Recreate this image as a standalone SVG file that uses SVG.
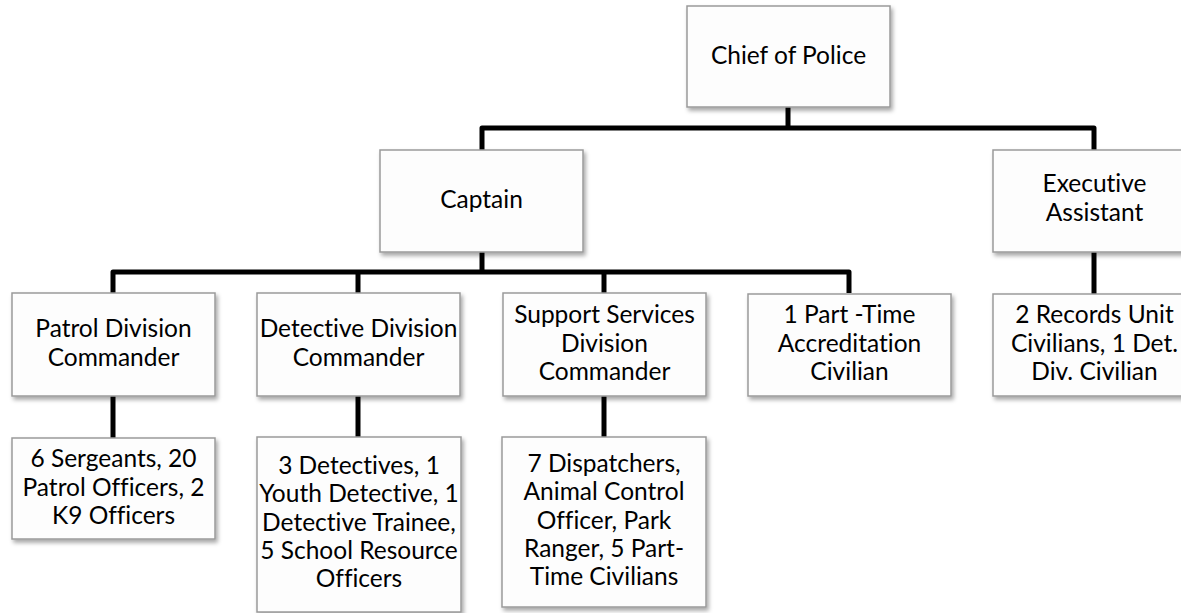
<svg xmlns="http://www.w3.org/2000/svg" width="1181" height="613" viewBox="0 0 1181 613">
  <defs>
    <filter id="shadow" x="-10%" y="-10%" width="125%" height="130%">
      <feDropShadow dx="2" dy="3" stdDeviation="2" flood-color="#000" flood-opacity="0.35"/>
    </filter>
    <style>
      .box { fill: #fdfdfd; stroke: #9a9a9a; stroke-width: 1.5; filter: url(#shadow); }
      .lbl { font-family: Lato, "Liberation Sans", sans-serif; font-size: 24.5px; fill: #000; text-anchor: middle;
             font-variant-ligatures: none; font-feature-settings: "liga" 0, "clig" 0, "dlig" 0; }
      .wire { fill: none; stroke: #000; stroke-width: 5; stroke-linejoin: round; stroke-linecap: butt; }
    </style>
  </defs>
  <rect width="1181" height="613" fill="#fff"/>

  <!-- connectors -->
  <g id="connectors">
    <path class="wire" d="M788,107 V128"/>
    <path class="wire" d="M482,150 V128 H1094 V150"/>
    <path class="wire" d="M113,293 V272 H849 V293"/>
    <path class="wire" d="M482,252 V272"/>
    <path class="wire" d="M358,272 V293"/>
    <path class="wire" d="M604,272 V293"/>
    <path class="wire" d="M113,396 V438"/>
    <path class="wire" d="M358,396 V437"/>
    <path class="wire" d="M604,396 V437"/>
    <path class="wire" d="M1094,252 V294"/>
  </g>

  <!-- top level -->
  <g id="chief">
    <rect class="box" x="687" y="6" width="203" height="101"/>
    <text class="lbl" x="788.5" y="64">Chief of Police</text>
  </g>

  <!-- second level -->
  <g id="captain">
    <rect class="box" x="380" y="150" width="203" height="102"/>
    <text class="lbl" x="481.5" y="208">Captain</text>
  </g>
  <g id="executive-assistant">
    <rect class="box" x="993" y="150" width="203" height="102"/>
    <text class="lbl" x="1094.5" y="192">Executive</text>
    <text class="lbl" x="1094.5" y="221">Assistant</text>
  </g>

  <!-- third level -->
  <g id="patrol-commander">
    <rect class="box" x="12" y="293" width="203" height="103"/>
    <text class="lbl" x="113.5" y="337">Patrol Division</text>
    <text class="lbl" x="113.5" y="366">Commander</text>
  </g>
  <g id="detective-commander">
    <rect class="box" x="257" y="293" width="203" height="103"/>
    <text class="lbl" x="358.5" y="337">Detective Division</text>
    <text class="lbl" x="358.5" y="366">Commander</text>
  </g>
  <g id="support-commander">
    <rect class="box" x="503" y="293" width="203" height="103"/>
    <text class="lbl" x="604.5" y="323">Support Services</text>
    <text class="lbl" x="604.5" y="352">Division</text>
    <text class="lbl" x="604.5" y="380">Commander</text>
  </g>
  <g id="accreditation">
    <rect class="box" x="748" y="294" width="203" height="102"/>
    <text class="lbl" x="849.5" y="323">1 Part -Time</text>
    <text class="lbl" x="849.5" y="352">Accreditation</text>
    <text class="lbl" x="849.5" y="380">Civilian</text>
  </g>
  <g id="records">
    <rect class="box" x="993" y="294" width="203" height="102"/>
    <text class="lbl" x="1094.5" y="323">2 Records Unit</text>
    <text class="lbl" x="1094.5" y="352">Civilians, 1 Det.</text>
    <text class="lbl" x="1094.5" y="380">Div. Civilian</text>
  </g>

  <!-- fourth level -->
  <g id="patrol-staff">
    <rect class="box" x="12" y="438" width="203" height="101"/>
    <text class="lbl" x="113.5" y="467">6 Sergeants, 20</text>
    <text class="lbl" x="113.5" y="496">Patrol Officers, 2</text>
    <text class="lbl" x="113.5" y="524">K9 Officers</text>
  </g>
  <g id="detective-staff">
    <rect class="box" x="257" y="437" width="204" height="175"/>
    <text class="lbl" x="359" y="474">3 Detectives, 1</text>
    <text class="lbl" x="359" y="502">Youth Detective, 1</text>
    <text class="lbl" x="359" y="531">Detective Trainee,</text>
    <text class="lbl" x="359" y="559">5 School Resource</text>
    <text class="lbl" x="359" y="587">Officers</text>
  </g>
  <g id="support-staff">
    <rect class="box" x="502" y="437" width="204" height="170"/>
    <text class="lbl" x="604" y="472">7 Dispatchers,</text>
    <text class="lbl" x="604" y="500">Animal Control</text>
    <text class="lbl" x="604" y="529">Officer, Park</text>
    <text class="lbl" x="604" y="557">Ranger, 5 Part-</text>
    <text class="lbl" x="604" y="585">Time Civilians</text>
  </g>
</svg>
